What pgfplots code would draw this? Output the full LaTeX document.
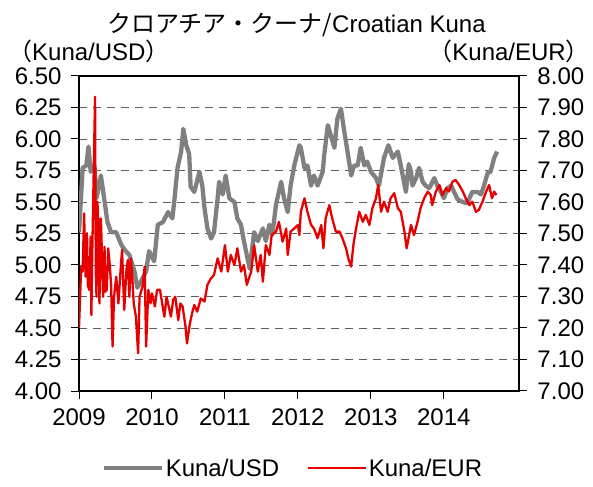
\documentclass[border=0pt]{standalone}
\usepackage{pgfplots}
\pgfplotsset{compat=1.18}
\usepackage{fontspec}
\setmainfont{Liberation Sans}
\newfontfamily\jp{Noto Sans CJK JP}
\definecolor{usdgray}{RGB}{128,128,128}
\definecolor{eurred}{RGB}{230,0,0}
\definecolor{gridgray}{RGB}{96,96,96}
\newcommand{\bigf}{\fontsize{24bp}{28bp}\selectfont}
\begin{document}
\begin{tikzpicture}
\path[use as bounding box] (0,0) rectangle (593bp,487bp);
\node[anchor=center,inner sep=0pt] at (296.5bp,462bp) {\bigf{\jp クロアチア・クーナ/}Croatian Kuna};
\node[anchor=west,inner sep=0pt] at (8bp,436bp) {\bigf{\jp （}Kuna/USD{\jp ）}};
\node[anchor=east,inner sep=0pt] at (590bp,436bp) {\bigf{\jp （}Kuna/EUR{\jp ）}};
\begin{axis}[
  at={(79bp,96bp)}, anchor=south west,
  width=440bp, height=315bp, scale only axis,
  xmin=2009, xmax=2015.03, ymin=4, ymax=6.5,
  xtick={2009,2010,2011,2012,2013,2014},
  xticklabels={2009,2010,2011,2012,2013,2014},
  ytick={4,4.25,4.5,4.75,5,5.25,5.5,5.75,6,6.25,6.5},
  yticklabel style={/pgf/number format/.cd,fixed,fixed zerofill,precision=2},
  /pgf/number format/assume math mode=true,
  xtick pos=bottom, ytick pos=left,
  tick align=outside, major tick length=8bp,
  tick style={black,line width=1bp},
  axis line style={black,line width=1.3bp},
  ymajorgrids, grid style={gridgray,line width=0.9bp,dash pattern=on 8bp off 6bp},
  tick label style={font=\bigf},
  xticklabel shift=6bp,
  yticklabel shift=6bp,
  legend style={at={(0.486,-0.245)},anchor=center,draw=none,fill=none,font=\bigf,
    legend columns=2,
    /tikz/every even column/.append style={column sep=26bp}},
  legend image code/.code={\draw[#1] (-8bp,0bp) -- (50bp,0bp);},
]
\addplot[usdgray,line width=4.3bp,line join=round] table {
2009.00 5.26
2009.03 5.56
2009.05 5.77
2009.10 5.79
2009.13 5.94
2009.16 5.74
2009.21 5.79
2009.24 5.53
2009.30 5.71
2009.32 5.63
2009.39 5.34
2009.44 5.26
2009.51 5.26
2009.58 5.16
2009.64 5.11
2009.69 5.08
2009.76 4.95
2009.80 4.82
2009.85 4.87
2009.92 4.95
2009.96 5.11
2010.03 5.03
2010.08 5.32
2010.15 5.34
2010.22 5.42
2010.28 5.37
2010.31 5.53
2010.35 5.77
2010.40 5.90
2010.43 6.08
2010.47 5.95
2010.51 5.88
2010.53 5.62
2010.58 5.58
2010.65 5.74
2010.69 5.63
2010.72 5.45
2010.76 5.29
2010.81 5.21
2010.85 5.26
2010.90 5.53
2010.92 5.66
2010.97 5.56
2011.01 5.71
2011.06 5.53
2011.13 5.50
2011.17 5.37
2011.22 5.32
2011.26 5.19
2011.31 5.05
2011.34 4.97
2011.40 5.26
2011.45 5.19
2011.52 5.29
2011.56 5.19
2011.61 5.32
2011.65 5.24
2011.70 5.48
2011.77 5.66
2011.81 5.53
2011.86 5.42
2011.90 5.63
2011.95 5.79
2012.02 5.95
2012.04 5.93
2012.09 5.77
2012.13 5.79
2012.18 5.63
2012.22 5.71
2012.27 5.63
2012.34 5.74
2012.36 5.87
2012.41 6.11
2012.45 6.03
2012.50 5.93
2012.54 6.16
2012.59 6.24
2012.63 6.08
2012.68 5.90
2012.73 5.71
2012.77 5.79
2012.82 5.79
2012.86 5.93
2012.91 5.79
2012.95 5.82
2013.00 5.74
2013.07 5.69
2013.11 5.63
2013.18 5.85
2013.24 5.95
2013.30 5.85
2013.37 5.90
2013.41 5.79
2013.48 5.58
2013.52 5.80
2013.55 5.74
2013.57 5.63
2013.62 5.69
2013.66 5.77
2013.71 5.66
2013.75 5.63
2013.80 5.61
2013.87 5.69
2013.91 5.63
2013.96 5.58
2014.00 5.53
2014.05 5.61
2014.10 5.63
2014.14 5.58
2014.19 5.52
2014.26 5.50
2014.32 5.49
2014.39 5.58
2014.46 5.58
2014.51 5.56
2014.55 5.63
2014.60 5.73
2014.64 5.74
2014.69 5.85
2014.73 5.90
};
\addlegendentry{Kuna/USD}
\addlegendimage{eurred,line width=1.6bp}
\addlegendentry{Kuna/EUR}
\end{axis}
\begin{axis}[
  at={(79bp,96bp)}, anchor=south west,
  width=440bp, height=315bp, scale only axis,
  xmin=2009, xmax=2015.03, ymin=7, ymax=8,
  axis x line=none, axis y line*=right,
  ytick={7,7.1,7.2,7.3,7.4,7.5,7.6,7.7,7.8,7.9,8},
  yticklabel style={/pgf/number format/.cd,fixed,fixed zerofill,precision=2},
  /pgf/number format/assume math mode=true,
  tick align=outside, major tick length=8bp,
  tick style={black,line width=1bp},
  axis line style={black,line width=1.3bp},
  tick label style={font=\bigf},
  yticklabel shift=7bp,
]
\addplot[eurred,line width=2.3bp,line join=round] table {
2009.00 7.199
2009.03 7.395
2009.05 7.379
2009.07 7.564
2009.09 7.363
2009.11 7.501
2009.12 7.337
2009.14 7.321
2009.16 7.490
2009.17 7.241
2009.18 7.416
2009.22 7.934
2009.23 7.379
2009.24 7.299
2009.25 7.601
2009.26 7.575
2009.28 7.278
2009.30 7.548
2009.31 7.469
2009.33 7.299
2009.35 7.458
2009.36 7.315
2009.38 7.321
2009.40 7.453
2009.42 7.405
2009.44 7.337
2009.46 7.141
2009.48 7.299
2009.51 7.363
2009.54 7.278
2009.57 7.384
2009.59 7.448
2009.62 7.257
2009.65 7.384
2009.67 7.416
2009.69 7.299
2009.71 7.421
2009.73 7.363
2009.75 7.278
2009.78 7.236
2009.81 7.120
2009.83 7.299
2009.87 7.331
2009.90 7.395
2009.92 7.141
2009.95 7.321
2009.98 7.278
2010.00 7.310
2010.04 7.268
2010.07 7.321
2010.11 7.321
2010.14 7.278
2010.17 7.236
2010.20 7.299
2010.23 7.268
2010.26 7.236
2010.29 7.289
2010.32 7.299
2010.36 7.225
2010.39 7.278
2010.42 7.268
2010.46 7.204
2010.48 7.151
2010.52 7.215
2010.55 7.247
2010.58 7.273
2010.62 7.252
2010.67 7.294
2010.72 7.284
2010.76 7.337
2010.81 7.358
2010.85 7.368
2010.90 7.421
2010.95 7.379
2011.00 7.463
2011.04 7.379
2011.08 7.432
2011.13 7.400
2011.17 7.453
2011.22 7.379
2011.26 7.400
2011.30 7.337
2011.36 7.379
2011.40 7.463
2011.45 7.379
2011.49 7.432
2011.52 7.347
2011.56 7.463
2011.61 7.432
2011.64 7.495
2011.70 7.506
2011.74 7.537
2011.79 7.474
2011.84 7.516
2011.86 7.432
2011.90 7.506
2011.95 7.516
2012.00 7.527
2012.02 7.495
2012.04 7.569
2012.09 7.612
2012.13 7.569
2012.18 7.527
2012.22 7.516
2012.27 7.485
2012.32 7.527
2012.35 7.453
2012.38 7.548
2012.43 7.590
2012.47 7.548
2012.52 7.506
2012.57 7.506
2012.61 7.485
2012.66 7.453
2012.69 7.421
2012.73 7.395
2012.76 7.463
2012.79 7.506
2012.84 7.569
2012.89 7.537
2012.93 7.559
2012.98 7.527
2013.02 7.580
2013.07 7.612
2013.10 7.654
2013.14 7.569
2013.18 7.601
2013.23 7.569
2013.27 7.612
2013.32 7.628
2013.37 7.580
2013.41 7.569
2013.46 7.506
2013.49 7.453
2013.55 7.527
2013.59 7.495
2013.64 7.537
2013.68 7.580
2013.73 7.612
2013.78 7.633
2013.82 7.622
2013.84 7.590
2013.89 7.633
2013.94 7.654
2013.98 7.622
2014.03 7.644
2014.07 7.633
2014.12 7.665
2014.16 7.670
2014.21 7.654
2014.26 7.633
2014.30 7.612
2014.35 7.590
2014.39 7.601
2014.44 7.569
2014.48 7.575
2014.53 7.601
2014.58 7.633
2014.62 7.654
2014.66 7.612
2014.69 7.633
2014.72 7.622
};
\end{axis}
\end{tikzpicture}
\end{document}
